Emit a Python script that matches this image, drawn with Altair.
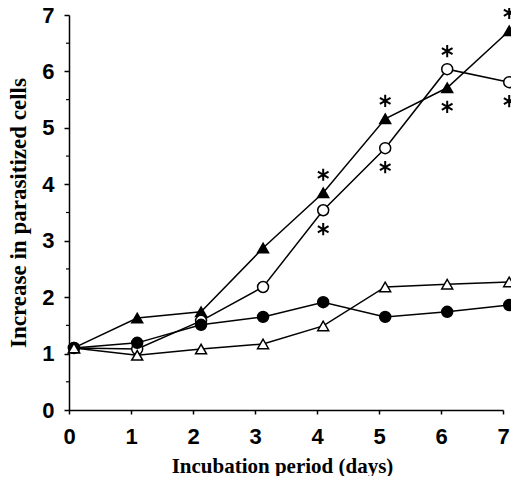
import altair as alt
import pandas as pd

# Values
days = [0.08, 1.1, 2.13, 3.13, 4.1, 5.1, 6.1, 7.1]
filled_triangle = [1.1, 1.63, 1.74, 2.87, 3.85, 5.16, 5.71, 6.72]
open_circle = [1.1, 1.08, 1.58, 2.18, 3.54, 4.64, 6.04, 5.81]
filled_circle = [1.1, 1.19, 1.51, 1.65, 1.91, 1.65, 1.74, 1.86]
open_triangle = [1.1, 0.97, 1.08, 1.17, 1.49, 2.18, 2.23, 2.27]

series_names = ["filled_triangle", "open_circle", "filled_circle", "open_triangle"]
series_shapes = ["triangle-up", "circle", "circle", "triangle-up"]
series_fills = ["black", "white", "black", "white"]

x_ticks = [0, 1, 2, 3, 4, 5, 6, 7]
y_ticks = [0, 1, 2, 3, 4, 5, 6, 7]
y_minor = [0.5, 1.5, 2.5, 3.5, 4.5, 5.5, 6.5]

# significance asterisks: (point index, series) above / below the marker
stars_above = [(4, "filled_triangle"), (5, "filled_triangle"), (6, "open_circle"), (7, "filled_triangle")]
stars_below = [(4, "open_circle"), (5, "open_circle"), (6, "filled_triangle"), (7, "open_circle")]

values = {
    "filled_triangle": filled_triangle,
    "open_circle": open_circle,
    "filled_circle": filled_circle,
    "open_triangle": open_triangle,
}

rows = []
for name in series_names:
    for d, v in zip(days, values[name]):
        rows.append({"series": name, "day": d, "value": v})
df = pd.DataFrame(rows)

above_df = pd.DataFrame([{"day": days[i], "value": values[s][i]} for i, s in stars_above])
below_df = pd.DataFrame([{"day": days[i], "value": values[s][i]} for i, s in stars_below])
minor_df = pd.DataFrame({"y": y_minor})

x_scale = alt.Scale(domain=[0, 7], nice=False, zero=False)
y_scale = alt.Scale(domain=[0, 7], nice=False, zero=False)

x_axis = alt.Axis(
    values=x_ticks, format="d", title="Incubation period (days)", grid=False,
    tickSize=4, labelPadding=12, titlePadding=8, titleX=213,
    labelFont="Liberation Sans", labelFontWeight="bold", labelFontSize=22,
    labelColor="black", tickColor="black", domainColor="black",
    titleFont="Liberation Serif", titleFontWeight="bold", titleFontSize=21,
    titleColor="black", domainWidth=1.5, tickWidth=1.5, labelFlush=False,
)
y_axis = alt.Axis(
    values=y_ticks, format="d", title="Increase in parasitized cells", grid=False,
    tickSize=5, labelPadding=10, titlePadding=11,
    labelFont="Liberation Sans", labelFontWeight="bold", labelFontSize=22,
    labelColor="black", tickColor="black", domainColor="black",
    titleFont="Liberation Serif", titleFontWeight="bold", titleFontSize=23,
    titleColor="black", domainWidth=1.5, tickWidth=1.5, labelFlush=False,
)

base = alt.Chart(df)

lines = base.mark_line(color="black", strokeWidth=1.5, clip=False).encode(
    x=alt.X("day:Q", scale=x_scale, axis=x_axis),
    y=alt.Y("value:Q", scale=y_scale, axis=y_axis),
    detail="series:N",
)

points = base.mark_point(filled=True, stroke="black", strokeWidth=1.5, size=120, opacity=1, clip=False).encode(
    x=alt.X("day:Q", scale=x_scale),
    y=alt.Y("value:Q", scale=y_scale),
    shape=alt.Shape("series:N", scale=alt.Scale(domain=series_names, range=series_shapes), legend=None),
    fill=alt.Fill("series:N", scale=alt.Scale(domain=series_names, range=series_fills), legend=None),
)

star_path = "M0,-1L0,1M-0.87,-0.5L0.87,0.5M-0.87,0.5L0.87,-0.5"

stars_up = alt.Chart(above_df).mark_point(
    shape=star_path, size=150, stroke="black", strokeWidth=2, filled=False, opacity=1, clip=False
).encode(
    x=alt.X("day:Q", scale=x_scale),
    y=alt.Y("value:Q", scale=y_scale),
    yOffset=alt.value(-18),
)
stars_down = alt.Chart(below_df).mark_point(
    shape=star_path, size=150, stroke="black", strokeWidth=2, filled=False, opacity=1, clip=False
).encode(
    x=alt.X("day:Q", scale=x_scale),
    y=alt.Y("value:Q", scale=y_scale),
    yOffset=alt.value(19),
)

minor = alt.Chart(minor_df).mark_rule(color="black", strokeWidth=1.2).encode(
    x=alt.value(-3), x2=alt.value(0),
    y=alt.Y("y:Q", scale=y_scale),
)

chart = alt.layer(minor, lines, points, stars_up, stars_down).properties(
    width=434, height=395,
    background="white",
    autosize=alt.AutoSizeParams(type="none"),
    padding={"left": 61, "top": 7, "right": 8, "bottom": 66},
).configure_view(strokeWidth=0, strokeOpacity=0)

chart.save("out.html", embed_options={"renderer": "svg", "actions": False})
